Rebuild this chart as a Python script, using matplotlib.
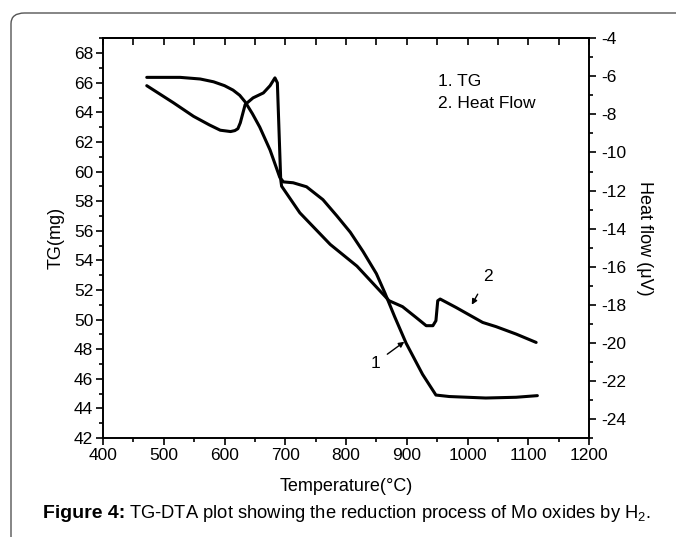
import matplotlib
matplotlib.use("Agg")
import matplotlib.pyplot as plt
from matplotlib.patches import FancyBboxPatch
from matplotlib.ticker import MultipleLocator, NullFormatter

plt.rcParams['font.family'] = ['Liberation Sans', 'DejaVu Sans']
plt.rcParams['mathtext.fontset'] = 'custom'
plt.rcParams['mathtext.rm'] = 'Liberation Sans'
plt.rcParams['axes.unicode_minus'] = False

# TG curve (left axis, mg)
tg_temp = [472, 527, 560, 582, 600, 614, 625, 634, 646, 658, 675, 691, 697, 713, 735, 762, 785,
           807, 828, 850, 864, 880, 899, 926, 948, 970, 1030, 1080, 1115]
tg_mass = [66.36, 66.36, 66.25, 66.06, 65.8, 65.5, 65.15, 64.7, 63.9, 63.0, 61.45, 59.6, 59.3, 59.24,
           58.97, 58.1, 57.0, 55.9, 54.6, 53.1, 51.8, 50.2, 48.4, 46.3, 44.9, 44.8, 44.7, 44.75, 44.86]

# heat flow curve (right axis, uV)
hf_temp = [472, 516, 549, 575, 593, 610, 617, 622, 626, 634, 647, 664, 675, 683, 687, 692.5,
           694, 724, 774, 818, 864, 871, 893, 915, 932, 943, 948, 951, 955,
           981, 1025, 1047, 1080, 1113]
hf_val = [-6.49, -7.39, -8.10, -8.55, -8.83, -8.9, -8.85, -8.75, -8.44, -7.48, -7.13, -6.87, -6.49,
          -6.08, -6.34, -11.42, -11.77, -13.17, -14.83, -15.97, -17.55, -17.79, -18.1, -18.66,
          -19.10, -19.10, -18.84, -17.79, -17.70, -18.14, -18.93, -19.15, -19.54, -19.98]

fig = plt.figure(figsize=(6.76, 5.37), dpi=100)
ax = fig.add_axes([0.1524, 0.1844, 0.7189, 0.7443])
ax2 = ax.twinx()

ax.plot(tg_temp, tg_mass, color='black', lw=2.2, solid_capstyle='round', solid_joinstyle='round')
ax2.plot(hf_temp, hf_val, color='black', lw=2.2, solid_capstyle='round', solid_joinstyle='round')

ax.set_xlim(400, 1200)
ax.set_ylim(42, 69)
ax2.set_ylim(-25, -4)

ax.xaxis.set_major_locator(MultipleLocator(100))
ax.xaxis.set_minor_locator(MultipleLocator(50))
ax.yaxis.set_major_locator(MultipleLocator(2))
ax.yaxis.set_minor_locator(MultipleLocator(1))
ax2.yaxis.set_major_locator(MultipleLocator(2))
ax2.yaxis.set_minor_locator(MultipleLocator(1))

for a in (ax, ax2):
    for s in a.spines.values():
        s.set_linewidth(1.2)

ax.tick_params(axis='x', which='major', direction='out', length=5, width=1.2,
               labelsize=12.5, top=False, pad=2)
ax.tick_params(axis='x', which='minor', direction='out', length=3, width=1.2, top=False)
ax.tick_params(axis='y', which='major', direction='out', length=5, width=1.2, labelsize=12.5, pad=2)
ax.tick_params(axis='y', which='minor', direction='out', length=3, width=1.2)
ax2.tick_params(axis='y', which='major', direction='out', length=5, width=1.2, labelsize=12.5, pad=4)
ax2.tick_params(axis='y', which='minor', direction='out', length=3, width=1.2)

# top ticks point inward, every 50
top = ax.secondary_xaxis('top')
top.xaxis.set_major_locator(MultipleLocator(50))
top.xaxis.set_major_formatter(NullFormatter())
top.tick_params(direction='in', length=5, width=1.2)
top.spines['top'].set_linewidth(1.2)

ax.set_xlabel('Temperature(°C)', fontsize=13, labelpad=11)
ax.set_ylabel('TG(mg)', fontsize=13, labelpad=7)
ax2.set_ylabel('Heat flow (μV)', fontsize=13, rotation=270, labelpad=19)

ax.text(951, 66.1, '1. TG', fontsize=12.5, va='center')
ax.text(951, 64.6, '2. Heat Flow', fontsize=12.5, va='center')

ax.annotate('1', xy=(896, 48.5), xytext=(848, 47.06), fontsize=12.5, ha='center', va='center',
            arrowprops=dict(arrowstyle='-|>', color='black', lw=1, shrinkA=4, shrinkB=0,
                            mutation_scale=8))
ax.annotate('2', xy=(1007, 51.0), xytext=(1033, 52.9), fontsize=12.5, ha='center', va='center',
            arrowprops=dict(arrowstyle='-|>', color='black', lw=1, shrinkA=6, shrinkB=0,
                            mutation_scale=8))

# caption: bold part then plain part
cap_x, cap_y = 43 / 676, 0.044
bold = fig.text(cap_x, cap_y, 'Figure 4:', fontsize=14, fontweight='bold', va='center', ha='left')
fig.canvas.draw()
bb = bold.get_window_extent()
fig.text((bb.x1 + 4) / fig.bbox.width, cap_y,
         'TG-DTA plot showing the reduction process of Mo oxides by H$_2$.',
         fontsize=13.2, va='center', ha='left')

frame = FancyBboxPatch((11 / 676, -0.2), 1.2, 1.2 - 13 / 537,
                       boxstyle='round,pad=0,rounding_size=0.02', transform=fig.transFigure,
                       fill=False, edgecolor='#555555', lw=1.0, clip_on=False)
fig.patches.append(frame)

fig.savefig('out.png', dpi=100)
